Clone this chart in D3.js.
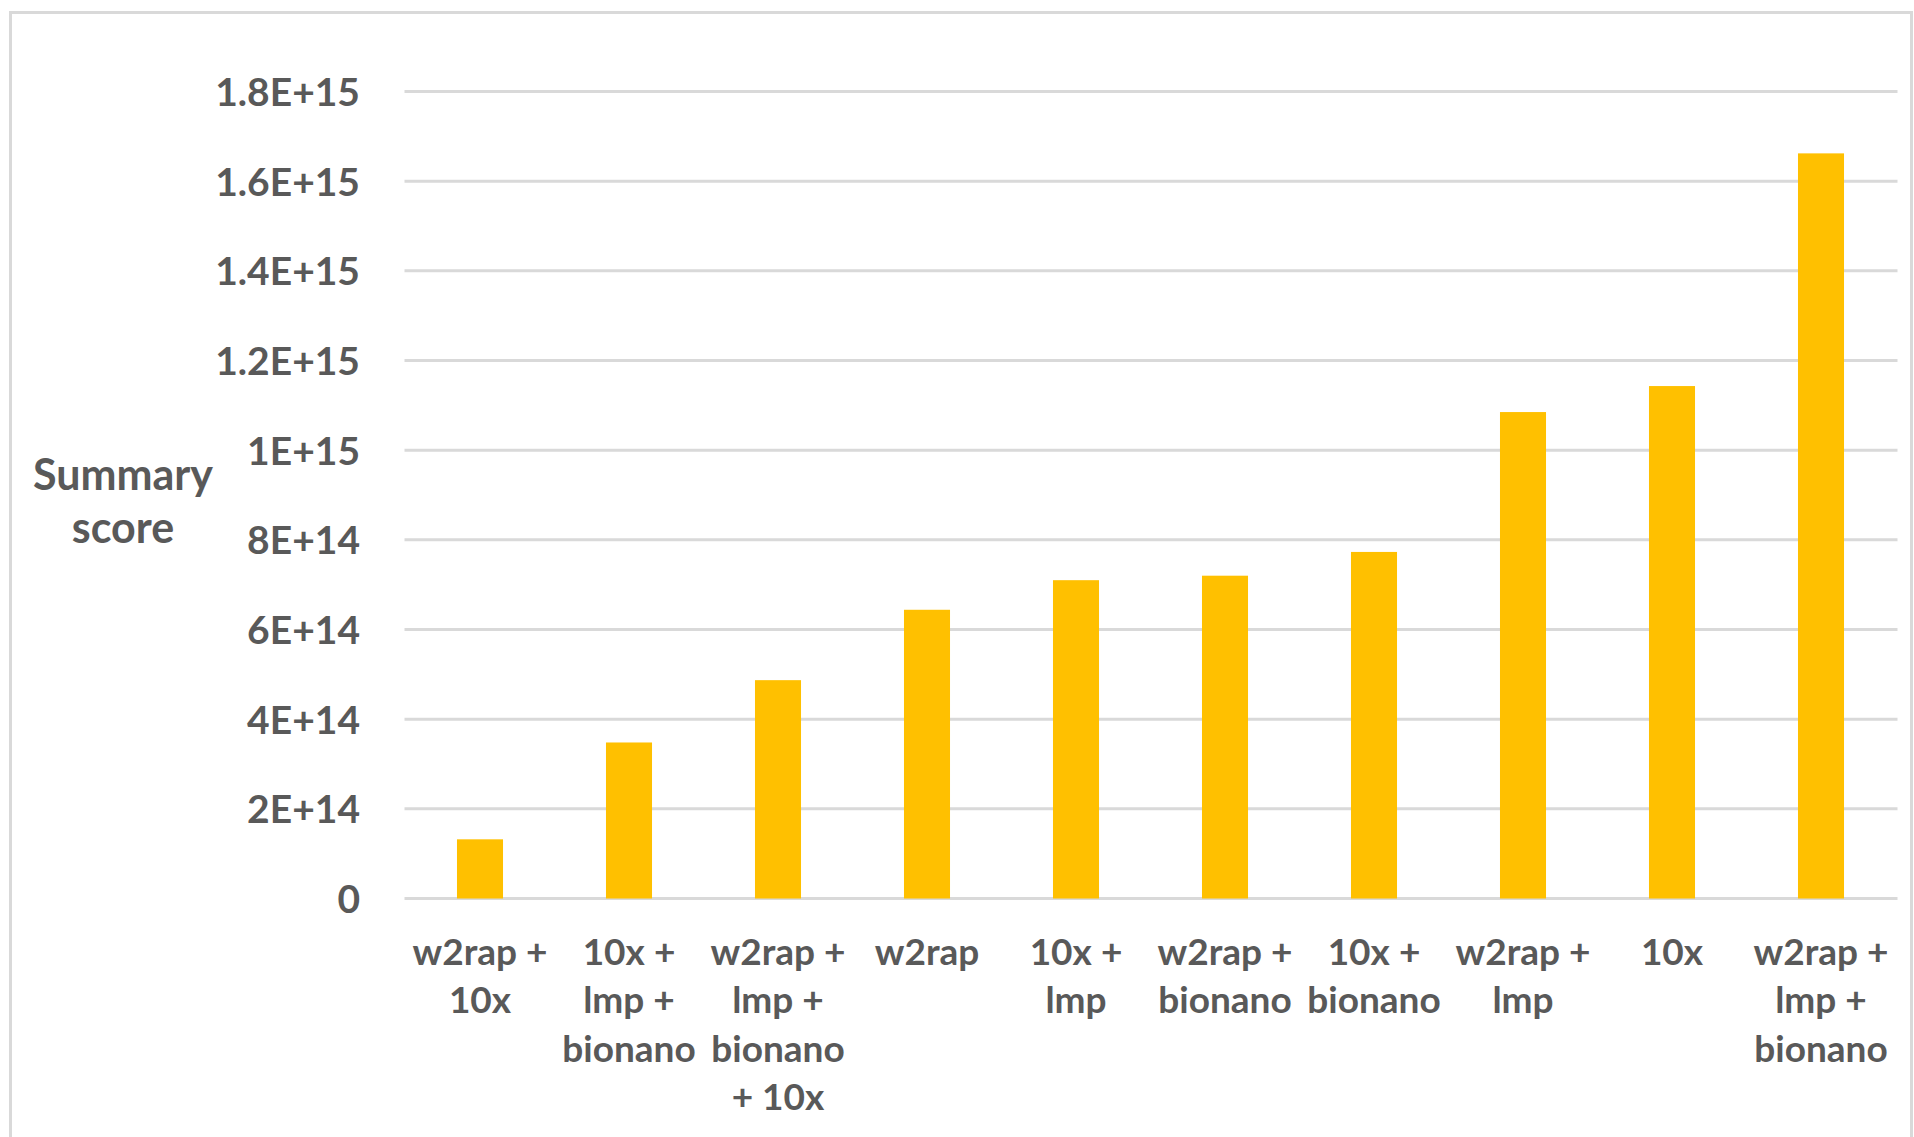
<!DOCTYPE html>
<html>
<head>
<meta charset="utf-8">
<script src="https://d3js.org/d3.v7.min.js"></script>
<style>
  html, body { margin: 0; padding: 0; background: #ffffff; }
  svg { display: block; }
</style>
</head>
<body>
<svg id="chart" width="1914" height="1137"></svg>
<script>
// ---- data ----
const categories = [
  "w2rap + 10x",
  "10x + lmp + bionano",
  "w2rap + lmp + bionano + 10x",
  "w2rap",
  "10x + lmp",
  "w2rap + bionano",
  "10x + bionano",
  "w2rap + lmp",
  "10x",
  "w2rap + lmp + bionano"
];
const categoryLines = [
  ["w2rap +", "10x"],
  ["10x +", "lmp +", "bionano"],
  ["w2rap +", "lmp +", "bionano", "+ 10x"],
  ["w2rap"],
  ["10x +", "lmp"],
  ["w2rap +", "bionano"],
  ["10x +", "bionano"],
  ["w2rap +", "lmp"],
  ["10x"],
  ["w2rap +", "lmp +", "bionano"]
];
const summaryScores = [
  1.32e14, 3.48e14, 4.87e14, 6.44e14, 7.10e14,
  7.20e14, 7.73e14, 1.085e15, 1.143e15, 1.662e15
];
const yTickValues = [0, 2e14, 4e14, 6e14, 8e14, 1e15, 1.2e15, 1.4e15, 1.6e15, 1.8e15];
const yAxisTitle = ["Summary", "score"];

// ---- layout ----
const svg = d3.select("#chart");
const plotLeft = 405.5, plotRight = 1895.5, plotTop = 91.5, plotBottom = 898.5;
const textColor = "#595959";
const fontFamily = "Lato, 'Open Sans', sans-serif";

// chart area border
svg.append("rect")
  .attr("x", 10.5).attr("y", 12.5)
  .attr("width", 1901).attr("height", 1140)
  .attr("fill", "#ffffff")
  .attr("stroke", "#d9d9d9").attr("stroke-width", 3);

const x = d3.scaleBand()
  .domain(categories)
  .range([plotLeft, plotRight])
  .paddingInner(0.691)
  .paddingOuter(0.3455);

const y = d3.scaleLinear()
  .domain([0, 1.8e15])
  .range([plotBottom, plotTop]);

function sciFormat(v) {
  if (v === 0) return "0";
  const e = Math.floor(Math.log10(v) + 1e-9);
  const m = Math.round(v / Math.pow(10, e) * 10) / 10;
  return String(m) + "E+" + e;
}

// gridlines
svg.append("g")
  .selectAll("line")
  .data(yTickValues)
  .join("line")
  .attr("x1", plotLeft - 1).attr("x2", plotRight + 2)
  .attr("y1", d => y(d)).attr("y2", d => y(d))
  .attr("stroke", "#d9d9d9")
  .attr("stroke-width", 3);

// y axis labels
const yAxis = d3.axisLeft(y)
  .tickValues(yTickValues)
  .tickFormat(sciFormat)
  .tickSize(0)
  .tickPadding(0);
const yg = svg.append("g")
  .attr("transform", `translate(360,0)`)
  .call(yAxis);
yg.select(".domain").remove();
yg.selectAll("text")
  .attr("fill", textColor)
  .attr("font-family", fontFamily)
  .attr("font-weight", 700)
  .attr("font-size", 39)
  .attr("dy", "0.36em");

// bars
svg.append("g")
  .selectAll("rect")
  .data(summaryScores)
  .join("rect")
  .attr("x", (d, i) => x(categories[i]))
  .attr("width", x.bandwidth())
  .attr("y", d => y(d))
  .attr("height", d => y(0) - y(d))
  .attr("fill", "#FFC000");

// x axis labels
const xAxis = d3.axisBottom(x).tickSize(0).tickFormat(() => "");
const xg = svg.append("g")
  .attr("transform", `translate(0,${plotBottom})`)
  .call(xAxis);
xg.select(".domain").remove();
xg.selectAll(".tick").each(function(d, i) {
  const t = d3.select(this).append("text")
    .attr("fill", textColor)
    .attr("font-family", fontFamily)
    .attr("font-weight", 700)
    .attr("font-size", 37)
    .attr("text-anchor", "middle");
  categoryLines[i].forEach((line, k) => {
    t.append("tspan")
      .attr("x", 0)
      .attr("y", 66 + k * 48.5)
      .text(line);
  });
});

// y axis title
const title = svg.append("text")
  .attr("fill", textColor)
  .attr("font-family", fontFamily)
  .attr("font-weight", 700)
  .attr("font-size", 43)
  .attr("text-anchor", "middle");
yAxisTitle.forEach((line, k) => {
  title.append("tspan")
    .attr("x", 123)
    .attr("y", 490 + k * 53)
    .text(line);
});
</script>
</body>
</html>
